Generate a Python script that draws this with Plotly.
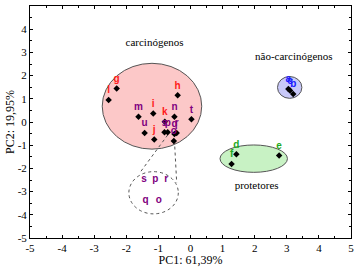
import plotly.graph_objects as go

# ---- data ----
labels = ["a", "b", "c", "d", "e", "f", "g", "h", "i", "j", "k", "l",
          "m", "n", "o", "p", "q", "r", "s", "t", "u"]
pc1 = [3.05, 3.20, 3.10, 1.43, 2.76, 1.28, -2.30, -0.40, -1.16, -1.13, -0.80, -2.55,
       -1.62, -0.50, -0.52, -0.71, -0.50, -0.43, -0.81, 0.03, -1.43]
pc2 = [1.42, 1.21, 1.36, -1.39, -1.44, -1.81, 1.44, 1.15, 0.37, -0.75, 0.01, 0.95,
       0.23, 0.23, -0.82, -0.44, -0.52, -0.47, -0.44, 0.12, -0.47]
groups = ["nc", "nc", "nc", "pr", "pr", "pr", "ca", "ca", "ca", "ca", "ca", "ca",
          "cp", "cp", "cp", "cp", "cp", "cp", "cp", "cp", "cp"]
group_colors = {"nc": "#1a1aff", "pr": "#22aa22", "ca": "#ff1a1a", "cp": "#800080"}

# ellipses: (center x, center y, radius x, radius y, fill)
ellipse_cx = [-1.20, 3.09, 1.97]
ellipse_cy = [0.68, 1.49, -1.58]
ellipse_rx = [1.55, 0.38, 1.05]
ellipse_ry = [1.85, 0.47, 0.59]
ellipse_fill = ["#fcc8c8", "#c8c8f8", "#c8f2c4"]

# zoom circle
zoom_c = (-1.15, -3.05)
zoom_r = (0.77, 0.91)
zoom_labels = ["s", "p", "r", "q", "o"]
zoom_x = [-1.45, -1.10, -0.76, -1.40, -0.99]
zoom_y = [-2.47, -2.47, -2.47, -3.39, -3.39]
zoom_lines = [((-0.71, -0.56), (-1.59, -2.21)), ((-0.50, -0.80), (-0.43, -2.62))]

group_names = ["carcinógenos", "não-carcinógenos", "protetores"]
group_name_x = [-1.12, 3.22, 2.06]
group_name_y = [3.39, 2.81, -2.79]

x_ticks = [-5, -4, -3, -2, -1, 0, 1, 2, 3, 4, 5]
y_ticks = [-5, -4, -3, -2, -1, 0, 1, 2, 3, 4, 5]

SERIF = "Liberation Serif, Times New Roman, serif"
SANS = "Liberation Sans, Arial, sans-serif"

fig = go.Figure()

shapes = []
for cx, cy, rx, ry, fc in zip(ellipse_cx, ellipse_cy, ellipse_rx, ellipse_ry, ellipse_fill):
    shapes.append(dict(type="circle", xref="x", yref="y", x0=cx - rx, x1=cx + rx,
                       y0=cy - ry, y1=cy + ry, fillcolor=fc,
                       line=dict(color="#555555", width=1), layer="below"))
shapes.append(dict(type="circle", xref="x", yref="y", x0=zoom_c[0] - zoom_r[0],
                   x1=zoom_c[0] + zoom_r[0], y0=zoom_c[1] - zoom_r[1], y1=zoom_c[1] + zoom_r[1],
                   line=dict(color="#555555", width=1, dash="dot"), layer="below"))
for (a, b) in zoom_lines:
    shapes.append(dict(type="line", xref="x", yref="y", x0=a[0], y0=a[1], x1=b[0], y1=b[1],
                       line=dict(color="#555555", width=1, dash="dot"), layer="below"))

fig.add_trace(go.Scatter(
    x=pc1, y=pc2, mode="markers+text", text=labels, textposition="top center",
    textfont=dict(family=SANS, size=10,
                  color=[group_colors[g] for g in groups], weight="bold"),
    marker=dict(symbol="diamond", size=5, color="black"),
    showlegend=False, cliponaxis=False))

fig.add_trace(go.Scatter(
    x=zoom_x, y=zoom_y, mode="text", text=zoom_labels,
    textfont=dict(family=SANS, size=10, color="#800080", weight="bold"),
    showlegend=False))

fig.add_trace(go.Scatter(
    x=group_name_x, y=group_name_y, mode="text", text=group_names,
    textfont=dict(family=SERIF, size=11, color="black"),
    showlegend=False))

axis_common = dict(
    showgrid=False, zeroline=False, showline=True, linecolor="black", linewidth=1,
    mirror="allticks", ticks="inside", ticklen=3, tickcolor="black",
    tickfont=dict(family=SERIF, size=11, color="black"),
    minor=dict(ticks="inside", ticklen=2, dtick=0.5, tickcolor="black"),
    automargin=False,
)

fig.update_layout(
    width=358, height=267,
    margin=dict(l=30, r=7, t=6, b=29),
    paper_bgcolor="white", plot_bgcolor="white",
    shapes=shapes,
    xaxis=dict(range=[-5, 5], tickvals=x_ticks, ticktext=[str(v) for v in x_ticks],
               title=dict(text="PC1: 61,39%", standoff=0,
                          font=dict(family=SERIF, size=12, color="black")),
               **axis_common),
    yaxis=dict(range=[-5, 5], tickvals=y_ticks, ticktext=[str(v) for v in y_ticks],
               title=dict(text="PC2: 19,95%", standoff=0,
                          font=dict(family=SERIF, size=12, color="black")),
               **axis_common),
)

fig.write_html("out.html", config={"displayModeBar": False},
               post_script="document.body.style.margin='0';document.body.style.overflow='hidden';")
